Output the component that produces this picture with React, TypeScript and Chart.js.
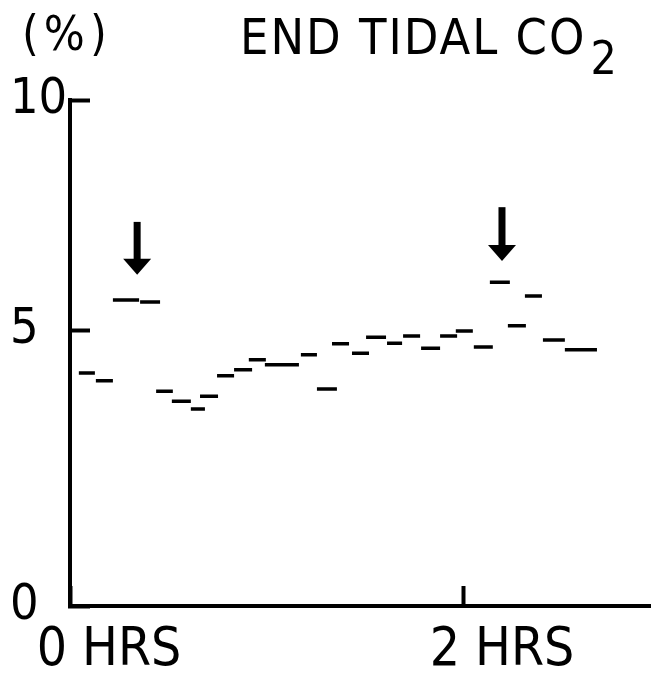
import React, { useEffect, useRef } from 'react';
import { Chart, registerables, LinearScale } from 'chart.js';

Chart.register(...registerables);

// ---- data (time in minutes, End tidal CO2 in %) ----
const segStart = [2.7, 7.9, 13.1, 21.4, 26.3, 31.1, 36.9, 39.7, 44.9, 50.1, 54.6, 59.5, 70.5, 75.4, 80.0, 86.1, 90.4, 96.8, 101.7, 107.2, 113.0, 117.8, 123.3, 128.2, 133.7, 138.9, 144.4, 151.1];
const segEnd = [7.6, 13.1, 21.1, 27.5, 31.4, 36.9, 41.2, 45.2, 50.1, 55.6, 59.8, 69.9, 75.4, 81.5, 85.2, 91.3, 96.5, 101.4, 106.9, 113.0, 118.2, 123.0, 129.1, 134.3, 139.2, 144.1, 151.1, 160.9];
const etco2 = [4.22, 4.08, 5.65, 5.61, 3.89, 3.71, 3.57, 3.80, 4.17, 4.28, 4.46, 4.37, 4.55, 3.93, 4.75, 4.58, 4.87, 4.76, 4.89, 4.67, 4.89, 4.98, 4.69, 6.04, 5.09, 5.74, 4.82, 4.64];

const arrowTime = [20.5, 131.9];
const arrowTop = [7.35, 7.67];
const arrowTip = [6.2, 6.5];

const yTicks = [0, 5, 10];
const yTickLabels = ['0', '5', '10'];
const xTicks = [0, 120];
const xTickLabels = ['0 HRS', '2 HRS'];
const unitText = '(%)';
const titleText = 'END TIDAL CO';
const titleSub = '2';

const FONT = "'Liberation Sans Narrow', 'DejaVu Sans Condensed', 'Liberation Sans', sans-serif";

// the hand-drawn axis has a larger 0-5 span than 5-10 span
const BREAK = 276 / 506;
class BrokenScale extends LinearScale {
  static id = 'broken';
  getPixelForValue(v: any) {
    if (v === null || v === undefined || isNaN(v)) return NaN;
    const d = v <= 5 ? (v / 5) * BREAK : BREAK + ((v - 5) / 5) * (1 - BREAK);
    return this.getPixelForDecimal(d);
  }
  getValueForPixel(p: number) {
    const d = this.getDecimalForPixel(p);
    return d <= BREAK ? (d / BREAK) * 5 : 5 + ((d - BREAK) / (1 - BREAK)) * 5;
  }
}
Chart.register(BrokenScale as any);

const decorPlugin = {
  id: 'decor',
  afterDatasetsDraw(chart: any) {
    const { ctx, scales } = chart;
    const xs = scales.x, ys = scales.y;
    ctx.save();
    ctx.fillStyle = '#000';
    arrowTime.forEach((t, i) => {
      const px = xs.getPixelForValue(t);
      const top = ys.getPixelForValue(arrowTop[i]);
      const tip = ys.getPixelForValue(arrowTip[i]);
      const headH = 16, headW = 28, shaftW = 7;
      ctx.fillRect(px - shaftW / 2, top, shaftW, tip - headH - top + 1);
      ctx.beginPath();
      ctx.moveTo(px - headW / 2, tip - headH);
      ctx.lineTo(px + headW / 2, tip - headH);
      ctx.lineTo(px, tip);
      ctx.closePath();
      ctx.fill();
    });
    ctx.restore();
  },
  afterDraw(chart: any) {
    const { ctx } = chart;
    ctx.save();
    ctx.fillStyle = '#000';
    ctx.textBaseline = 'alphabetic';
    ctx.textAlign = 'left';
    ctx.font = `48px ${FONT}`;
    (ctx as any).letterSpacing = '5px';
    ctx.fillText(unitText, 22, 50);
    (ctx as any).letterSpacing = '2px';
    ctx.font = `50px ${FONT}`;
    ctx.fillText(titleText, 240, 54);
    const w = ctx.measureText(titleText).width;
    ctx.font = `46px ${FONT}`;
    (ctx as any).letterSpacing = '0px';
    ctx.fillText(titleSub, 240 + w + 4, 74);
    ctx.restore();
  },
};

export default function App() {
  const ref = useRef<HTMLCanvasElement | null>(null);
  useEffect(() => {
    if (!ref.current) return;
    const segData: any[] = [];
    etco2.forEach((v, i) => {
      segData.push({ x: segStart[i], y: v }, { x: segEnd[i], y: v }, { x: segEnd[i], y: null });
    });
    const chart = new Chart(ref.current, {
      type: 'line',
      data: {
        datasets: [
          {
            data: segData,
            borderColor: '#000',
            borderWidth: 3.5,
            pointRadius: 0,
            spanGaps: false,
            borderCapStyle: 'butt',
            tension: 0,
          },
        ],
      },
      options: {
        responsive: false,
        maintainAspectRatio: false,
        animation: false,
        events: [],
        layout: { padding: { left: 10, top: 100, right: 0, bottom: 0 } },
        plugins: { legend: { display: false }, tooltip: { enabled: false }, title: { display: false } },
        scales: {
          x: {
            type: 'linear',
            min: 0,
            max: 177.4,
            afterBuildTicks: (s: any) => { s.ticks = xTicks.map((v) => ({ value: v })); },
            afterFit: (s: any) => { s.height = 67; s.paddingLeft = 0; s.paddingRight = 0; },
            ticks: {
              callback: (_v: any, i: number) => xTickLabels[i],
              labelOffset: 39,
              padding: 33,
              maxRotation: 0,
              autoSkip: false,
              color: '#000',
              font: { family: FONT, size: 53 },
            },
            grid: { drawOnChartArea: false, drawTicks: true, tickLength: -20, tickColor: '#000', tickWidth: 4 },
            border: { display: true, color: '#000', width: 4 },
          },
          y: {
            type: 'broken' as any,
            min: 0,
            max: 10,
            afterBuildTicks: (s: any) => { s.ticks = yTicks.map((v) => ({ value: v })); },
            afterFit: (s: any) => { s.width = 60; s.paddingTop = 0; s.paddingBottom = 0; },
            ticks: {
              callback: (_v: any, i: number) => yTickLabels[i],
              crossAlign: 'far',
              padding: 0,
              color: '#000',
              font: { family: FONT, size: 50 },
            },
            grid: { drawOnChartArea: false, drawTicks: true, tickLength: -20, tickColor: '#000', tickWidth: 4 },
            border: { display: true, color: '#000', width: 4 },
          },
        },
      } as any,
      plugins: [decorPlugin],
    });
    return () => chart.destroy();
  }, []);
  return (
    <div style={{ position: 'absolute', left: 0, top: 0, width: 651, height: 673, background: '#fff' }}>
      <canvas ref={ref} width={651} height={673} style={{ display: 'block' }} />
    </div>
  );
}
